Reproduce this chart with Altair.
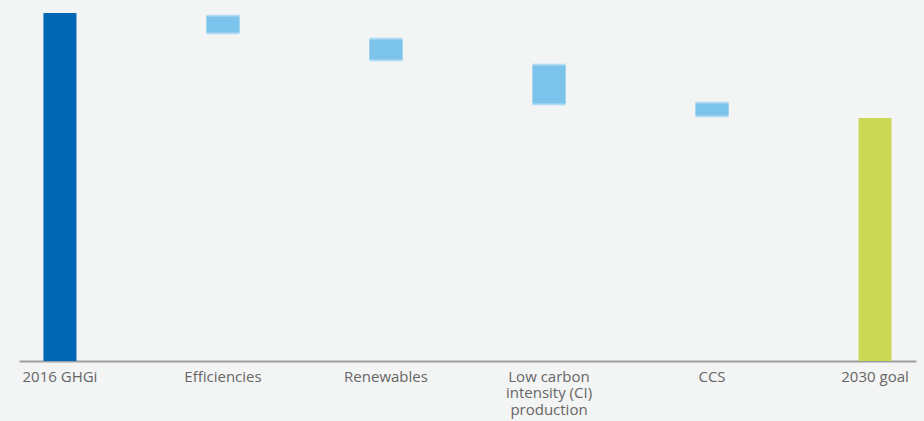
import altair as alt
import pandas as pd

categories = ["2016 GHGi", "Efficiencies", "Renewables",
              "Low carbon\nintensity (CI)\nproduction", "CCS", "2030 goal"]
bar_top = [100.0, 99.7, 93.1, 85.6, 74.7, 69.8]
bar_bottom = [0.0, 93.7, 85.9, 73.3, 69.8, 0.0]
kinds = ["start", "change", "change", "change", "change", "goal"]

df = pd.DataFrame({"cat": categories, "top": bar_top, "bottom": bar_bottom, "kind": kinds})

xenc = alt.X("cat:N", sort=categories, title=None,
             scale=alt.Scale(paddingInner=0.7975, paddingOuter=0.15),
             axis=alt.Axis(labelAngle=0, ticks=False, domainColor="#9e9e9e", domainWidth=2,
                           labelColor="#666666", labelFontSize=15, labelFont="Open Sans",
                           labelPadding=8, labelLineHeight=16.5,
                           labelExpr="split(datum.label, '\\n')", grid=False))
yscale = alt.Scale(domain=[0, 103.74], nice=False, zero=True)
yenc = alt.Y("top:Q", scale=yscale, axis=None)
y2enc = alt.Y2("bottom:Q")

base = alt.Chart(df)

solid = base.transform_filter("datum.kind != 'change'").mark_bar().encode(
    x=xenc, y=yenc, y2=y2enc,
    color=alt.Color("kind:N", scale=alt.Scale(domain=["start", "goal"], range=["#0067b4", "#cad856"]), legend=None),
)

fade1 = base.transform_filter("datum.kind == 'change'").mark_bar(color="#dcedf7").encode(
    x=xenc, y=yenc, y2=y2enc)
fade2 = base.transform_filter("datum.kind == 'change'").mark_bar(color="#b2daf2", yOffset=1, y2Offset=-1).encode(
    x=xenc, y=yenc, y2=y2enc)
fade3 = base.transform_filter("datum.kind == 'change'").mark_bar(color="#7cc4ec", yOffset=2.5, y2Offset=-2.5).encode(
    x=xenc, y=yenc, y2=y2enc)

chart = alt.layer(solid, fade1, fade2, fade3).properties(
    width=897, height=361,
    autosize=alt.AutoSizeParams(type="none"),
    padding={"left": 19, "top": 0, "right": 8, "bottom": 60},
    background="#f3f4f4",
).configure_view(stroke=None)

chart.save("out.html", embed_options={"renderer": "svg", "actions": False})
